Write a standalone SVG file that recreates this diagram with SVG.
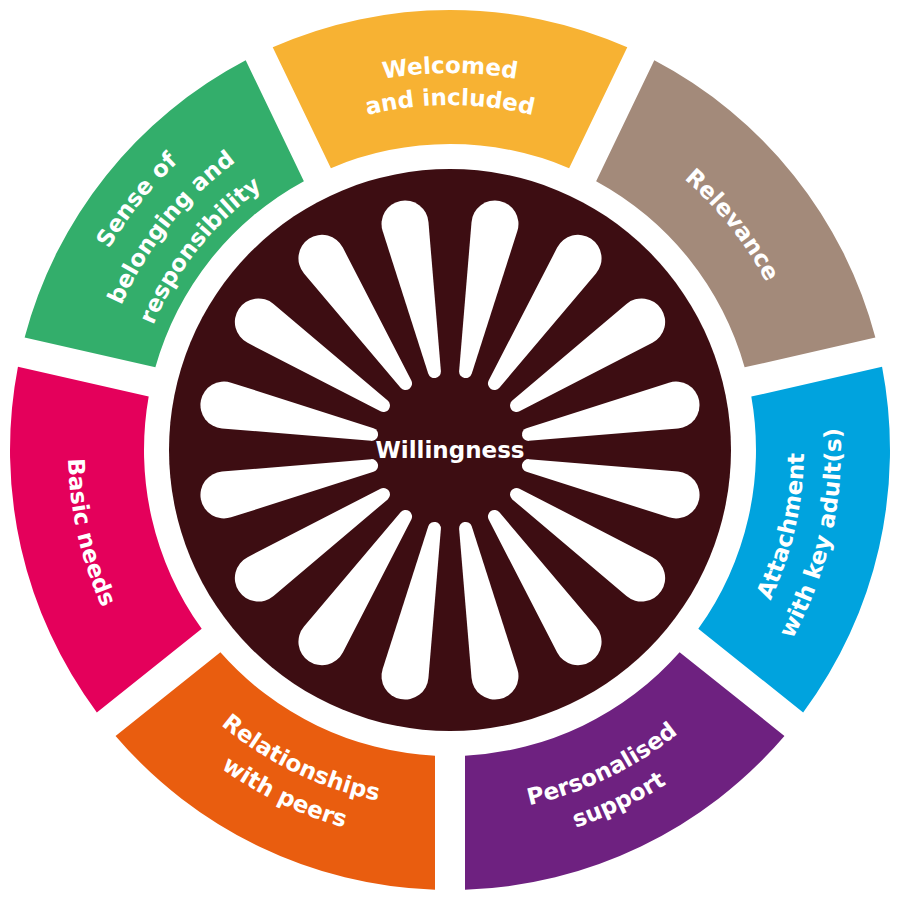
<svg xmlns="http://www.w3.org/2000/svg" width="900" height="900" viewBox="0 0 900 900">
<style>
.lbl{font-family:"DejaVu Sans","Open Sans",sans-serif;font-weight:700;font-size:23px;fill:#ffffff;text-anchor:middle}
.spoke{fill:#ffffff}
</style>
<defs>
<path id="seg" d="M272.72,47.30 A440,440 0 0 1 627.28,47.30 L569.09,168.13 A306,306 0 0 0 330.91,168.13 Z"/>
<path id="spoke" d="M79.266,6.458 L227.845,23.35 A23.5,23.5 0 1 0 227.845,-23.35 L79.266,-6.458 A6.5,6.5 0 0 0 79.266,6.458 Z"/>
<path id="a-wel1" d="M207.67,161.20 A377,377 0 0 1 692.33,161.20"/>
<path id="a-wel2" d="M228.24,185.72 A345,345 0 0 1 671.76,185.72"/>
<path id="a-rel" d="M520.94,99.10 A358,358 0 0 1 807.89,458.93"/>
<path id="a-sen1" d="M54.12,459.88 A396,396 0 0 1 371.53,61.85"/>
<path id="a-sen2" d="M91.11,458.95 A359,359 0 0 1 378.86,98.12"/>
<path id="a-sen3" d="M128.10,458.03 A322,322 0 0 1 386.20,134.39"/>
<path id="a-att1" d="M663.75,732.19 A354,354 0 0 0 765.01,288.49"/>
<path id="a-att2" d="M686.09,761.68 A391,391 0 0 0 797.94,271.61"/>
<path id="a-per1" d="M360.18,802.75 A364,364 0 0 0 781.79,599.72"/>
<path id="a-per2" d="M351.79,835.69 A398,398 0 0 0 812.78,613.71"/>
<path id="a-rls1" d="M123.68,597.25 A358,358 0 0 0 538.34,796.93"/>
<path id="a-rls2" d="M92.69,611.24 A392,392 0 0 0 546.73,829.88"/>
<path id="a-bas" d="M110.07,275.72 A382,382 0 0 0 219.35,754.51"/>
</defs>
<rect width="900" height="900" fill="#ffffff"/>
<g id="connectors"/>
<g id="welcomed">
<use href="#seg" fill="#F7B233"/>
<text class="lbl"><textPath href="#a-wel1" startOffset="50%">Welcomed</textPath></text>
<text class="lbl"><textPath href="#a-wel2" startOffset="50%">and included</textPath></text>
</g>
<g id="relevance">
<use href="#seg" fill="#A38A7A" transform="rotate(51.428571 450 450)"/>
<text class="lbl"><textPath href="#a-rel" startOffset="50%">Relevance</textPath></text>
</g>
<g id="attachment">
<use href="#seg" fill="#00A3DE" transform="rotate(102.857143 450 450)"/>
<text class="lbl"><textPath href="#a-att1" startOffset="50%">Attachment</textPath></text>
<text class="lbl"><textPath href="#a-att2" startOffset="50%">with key adult(s)</textPath></text>
</g>
<g id="personalised">
<use href="#seg" fill="#6E2180" transform="rotate(154.285714 450 450)"/>
<text class="lbl"><textPath href="#a-per1" startOffset="50%">Personalised</textPath></text>
<text class="lbl"><textPath href="#a-per2" startOffset="50%">support</textPath></text>
</g>
<g id="relationships">
<use href="#seg" fill="#E95D0F" transform="rotate(205.714286 450 450)"/>
<text class="lbl"><textPath href="#a-rls1" startOffset="50%">Relationships</textPath></text>
<text class="lbl"><textPath href="#a-rls2" startOffset="50%">with peers</textPath></text>
</g>
<g id="basic-needs">
<use href="#seg" fill="#E4005B" transform="rotate(257.142857 450 450)"/>
<text class="lbl"><textPath href="#a-bas" startOffset="50%">Basic needs</textPath></text>
</g>
<g id="belonging">
<use href="#seg" fill="#33AE6B" transform="rotate(308.571429 450 450)"/>
<text class="lbl"><textPath href="#a-sen1" startOffset="50%">Sense of</textPath></text>
<text class="lbl"><textPath href="#a-sen2" startOffset="50%">belonging and</textPath></text>
<text class="lbl"><textPath href="#a-sen3" startOffset="50%">responsibility</textPath></text>
</g>
<g id="willingness">
<circle cx="450" cy="450" r="281" fill="#3D0D12"/>
<g transform="translate(450 450)">
<use href="#spoke" class="spoke" transform="rotate(11.25)"/>
<use href="#spoke" class="spoke" transform="rotate(33.75)"/>
<use href="#spoke" class="spoke" transform="rotate(56.25)"/>
<use href="#spoke" class="spoke" transform="rotate(78.75)"/>
<use href="#spoke" class="spoke" transform="rotate(101.25)"/>
<use href="#spoke" class="spoke" transform="rotate(123.75)"/>
<use href="#spoke" class="spoke" transform="rotate(146.25)"/>
<use href="#spoke" class="spoke" transform="rotate(168.75)"/>
<use href="#spoke" class="spoke" transform="rotate(191.25)"/>
<use href="#spoke" class="spoke" transform="rotate(213.75)"/>
<use href="#spoke" class="spoke" transform="rotate(236.25)"/>
<use href="#spoke" class="spoke" transform="rotate(258.75)"/>
<use href="#spoke" class="spoke" transform="rotate(281.25)"/>
<use href="#spoke" class="spoke" transform="rotate(303.75)"/>
<use href="#spoke" class="spoke" transform="rotate(326.25)"/>
<use href="#spoke" class="spoke" transform="rotate(348.75)"/>
</g>
<text class="lbl" x="450" y="458">Willingness</text>
</g>
</svg>
